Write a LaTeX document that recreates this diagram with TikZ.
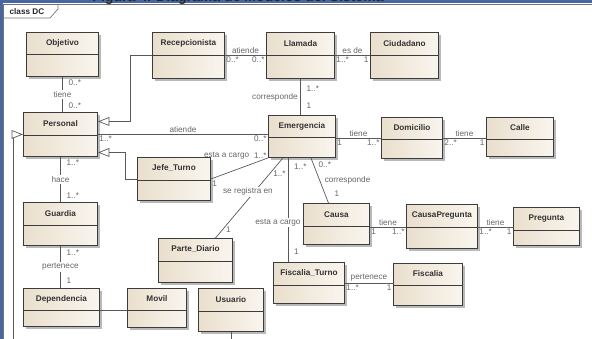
\documentclass[tikz,border=0pt]{standalone}
\usepackage{fontspec}
\setmainfont{Liberation Sans}
\usetikzlibrary{calc,arrows.meta,shadows}
\definecolor{clsfill}{RGB}{234,223,205}
\definecolor{clsfillb}{RGB}{249,245,238}
\definecolor{clsline}{RGB}{60,60,60}
\definecolor{winblue}{RGB}{72,102,160}

\tikzset{
  cls/.style={draw=clsline, line width=0.8pt, left color=clsfill, right color=clsfillb, inner sep=0pt,
    drop shadow={shadow xshift=0.07cm, shadow yshift=-0.07cm, fill=black!50, opacity=0.55}},
  clsname/.style={font=\bfseries\fontsize{7}{8}\selectfont, text=black!80},
  assoc/.style={draw=black!65, line width=0.6pt},
  gen/.style={assoc, -{Triangle[open, fill=white, length=3.4mm, width=2.6mm]}},
  lbl/.style={font=\fontsize{7}{8}\selectfont, text=black!60, inner sep=1pt},
}

\begin{document}
\begin{tikzpicture}[x=0.03cm, y=-0.03cm]
\useasboundingbox (0,0) rectangle (592,339);
\clip (0,0) rectangle (592,339);
% window edge and frame
\fill[winblue] (0,0) rectangle (592,3.5);
\fill[winblue] (0,0) rectangle (2.5,339);
\node[font=\bfseries\fontsize{12}{14}\selectfont, anchor=base, text=black!85] (title) at (238,2) {Figura 4. Diagrama de Modelos del Sistema};
\draw[black!55, line width=0.6pt] (3.5,350) -- (3.5,4.5) -- (600,4.5);
\draw[black!55, line width=0.6pt, fill=white] (3.5,4.5) -- (58,4.5) -- (58,9) -- (50,18) -- (3.5,18) -- cycle;
\node[font=\bfseries\fontsize{7}{8}\selectfont, anchor=west, text=black!85] (frm) at (5.5,11.5) {class DC};

% classes: name/text/x/y/width/height/header
\foreach \n/\t/\x/\y/\w/\h/\d in {obj/Objetivo/26/32/72/44/22, rec/Recepcionista/152/32/72/46/23,
  lla/Llamada/266/32/68/46/23, ciu/Ciudadano/370/32/68/46/23, per/Personal/23/112/74/44/23,
  eme/Emergencia/268/115/67/42/22, dom/Domicilio/381/117/61/41/22, cal/Calle/486/117/67/39/22,
  jef/Jefe\_Turno/137/157/73/43/23, gua/Guardia/23/202/74/43/23, dep/Dependencia/23/288/76/38/22,
  mov/Movil/127/288/59/39/22, usu/Usuario/198/288/65/43/23, par/Parte\_Diario/158/238/74/44/23,
  fis/Fiscalia\_Turno/273/262/71/41/23, fsc/Fiscalia/393/263/69/42/22, cau/Causa/303/203/66/41/23,
  cpr/CausaPregunta/406/204/71/44/23, pre/Pregunta/513/207/66/38/23}{
  \node[cls, anchor=north west, minimum width=\w*0.03cm, minimum height=\h*0.03cm] (\n) at (\x,\y) {};
  \draw[clsline, line width=0.8pt] ($(\n.north west)+(0,\d)$) -- ($(\n.north east)+(0,\d)$);
  \node[clsname] (\n-name) at ($(\n.north)+(0,\d/2)$) {\t};
}

% generalizations
\draw[gen] (rec.west) -- ++(-22,0) |- ($(per.east)+(0,-13)$);
\draw[gen] (jef.west) -- ++(-12,0) |- ($(per.east)+(0,18)$);
\draw[gen] (usu.south) -- ++(0,20) -| ($(per.west)+(-10,0)$) -- (per.west);

% associations
\draw[assoc] (obj.south) -- (obj.south |- per.north)
  node[lbl, pos=.17, right=4pt] {0..*} node[lbl, fill=white, midway] {tiene} node[lbl, pos=.83, right=4pt] {0..*};
\draw[assoc] (rec.east) -- (lla.west)
  node[lbl, midway, above] {atiende} node[lbl, at start, below right] {0..*} node[lbl, at end, below left] {0..*};
\draw[assoc] (lla.east) -- (ciu.west)
  node[lbl, midway, above] {es de} node[lbl, at start, below right] {1..*} node[lbl, at end, below left] {1};
\draw[assoc] (lla.south) -- (lla.south |- eme.north)
  node[lbl, pos=.27, right=4pt] {1..*} node[lbl, midway, left=1pt] {corresponde} node[lbl, pos=.75, right=4pt] {1};
\draw[assoc] (per.east) -- (per.east -| eme.west)
  node[lbl, midway, above] {atiende} node[lbl, at start, below right] {1..*} node[lbl, at end, below left] {0..*};
\draw[assoc] (dom.west -| eme.east) -- (dom.west)
  node[lbl, midway, above] {tiene} node[lbl, at start, below right] {1} node[lbl, at end, below left] {1..*};
\draw[assoc] (dom.east) -- (dom.east -| cal.west)
  node[lbl, midway, above] {tiene} node[lbl, at start, below right] {2..*} node[lbl, at end, below left] {1};
\draw[assoc] ($(eme.south)+(9,0)$) -- ($(cau.north)+(-8,0)$)
  node[lbl, pos=.15, right=3pt] {0..*} node[lbl, midway, right=3pt] {corresponde} node[lbl, pos=.8, right=7pt] {1};
\coordinate (ecargo) at ($(eme.south)+(-14,0)$);
\draw[assoc] (ecargo) -- (ecargo |- fis.north)
  node[lbl, pos=.08, right=4pt] {1..*} node[lbl, pos=.62, fill=white, xshift=-0.3cm] {esta a cargo} node[lbl, pos=.9, right=4pt] {1};
\coordinate (ereg) at ($(eme.south)+(-19,0)$);
\coordinate (preg) at ($(par.north)+(20,0)$);
\draw[assoc] (ereg) -- (preg)
  node[lbl, pos=.2, right=2pt] {1..*} node[lbl, pos=.42, fill=white, xshift=-0.2cm] {se registra en} node[lbl, pos=.9, right=2pt] {1};
\draw[assoc] (eme.south west) -- (jef.east)
  node[lbl, at start, anchor=east, yshift=0.06cm] {1..*} node[lbl, at start, anchor=east, xshift=-0.52cm, yshift=0.06cm] {esta a cargo}
  node[lbl, at end, below right] {1};
\draw[assoc] (per.south) -- (gua.north)
  node[lbl, pos=.12, right=4pt] {1..*} node[lbl, midway, fill=white] {hace} node[lbl, pos=.85, right=4pt] {1..*};
\draw[assoc] (gua.south) -- (gua.south |- dep.north)
  node[lbl, pos=.15, right=4pt] {1..*} node[lbl, midway, fill=white] {pertenece} node[lbl, pos=.82, right=4pt] {1};
\draw[assoc] ($(dep.north east)+(0,22)$) -- ($(mov.north west)+(0,22)$);
\draw[assoc] ($(cau.north east)+(0,24)$) -- ($(cpr.north west)+(0,23)$)
  node[lbl, midway, above] {tiene} node[lbl, at start, below right] {1} node[lbl, at end, below left] {1..*};
\draw[assoc] ($(cpr.north east)+(0,23)$) -- ($(pre.north west)+(0,20)$)
  node[lbl, midway, above] {tiene} node[lbl, at start, below right] {1..*} node[lbl, at end, below left] {1};
\draw[assoc] (fis.east) -- (fis.east -| fsc.west)
  node[lbl, midway, above] {pertenece} node[lbl, at start, below right] {1..*} node[lbl, at end, below left] {1};
\end{tikzpicture}
\end{document}
